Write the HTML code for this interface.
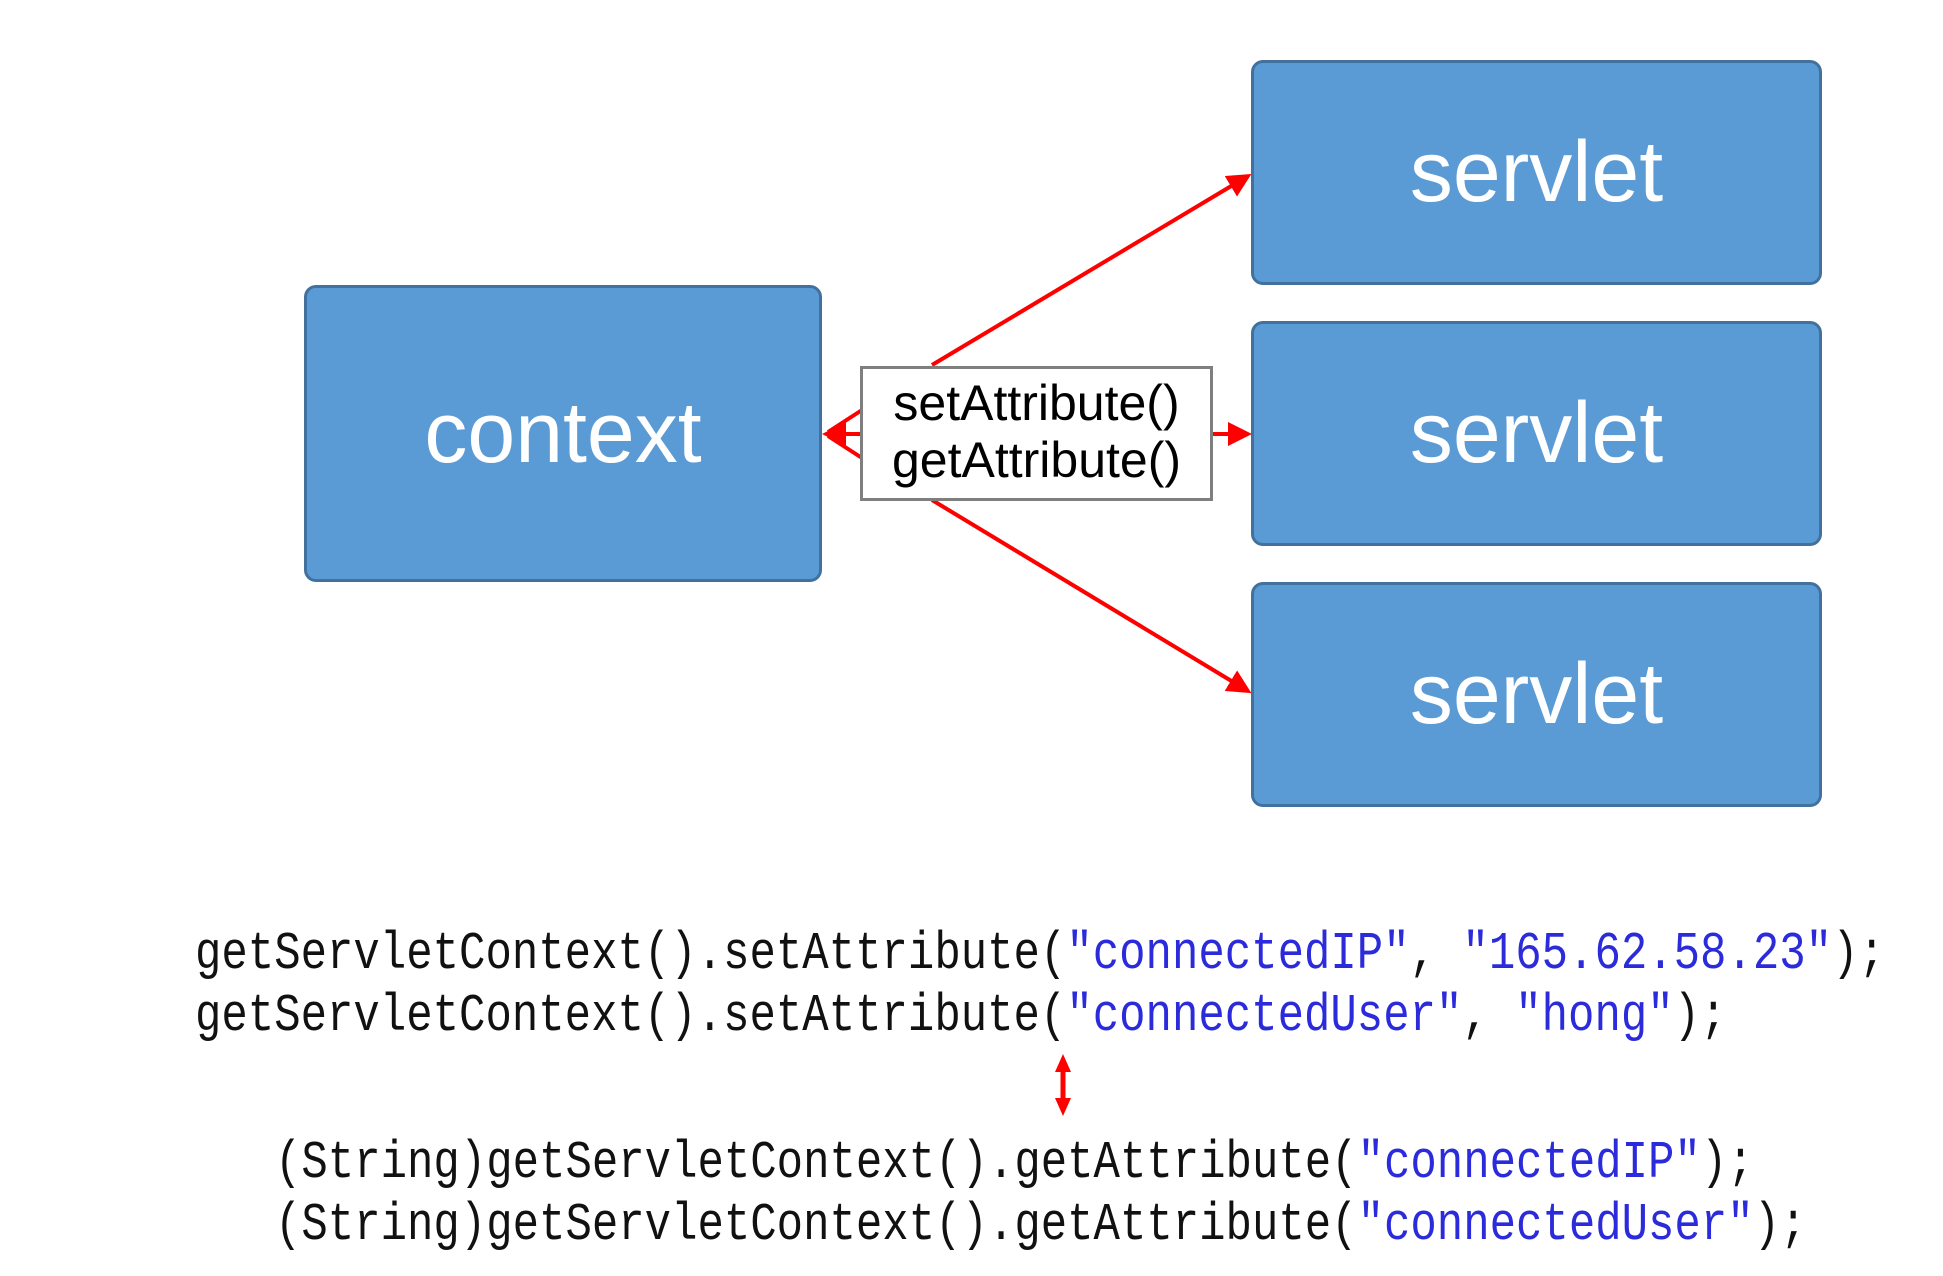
<!DOCTYPE html>
<html><head><meta charset="utf-8"><style>
body{margin:0;width:1943px;height:1276px;background:#fff;position:relative;overflow:hidden;font-family:"Liberation Sans",sans-serif}
.b{position:absolute;background:#5b9bd5;border:3px solid #41719c;border-radius:12px;box-sizing:border-box;color:#fff;display:flex;align-items:center;justify-content:center;font-size:86px}
.lab{position:absolute;left:860px;top:366px;width:353px;height:135px;box-sizing:border-box;border:3px solid #7f7f7f;background:#fff;text-align:center;font-size:50px;line-height:57px;padding-top:6px;color:#000}
.code{position:absolute;font-family:"Liberation Mono",monospace;font-size:44px;white-space:pre;color:#111;transform:scaleY(1.2);transform-origin:left bottom;line-height:1}
.s{color:#2b2bdc}
</style></head><body>
<div class="b" style="left:304px;top:285px;width:518px;height:297px">context</div>
<div class="b" style="left:1251px;top:60px;width:571px;height:225px">servlet</div>
<div class="b" style="left:1251px;top:321px;width:571px;height:225px">servlet</div>
<div class="b" style="left:1251px;top:582px;width:571px;height:225px">servlet</div>
<svg style="position:absolute;left:0;top:0" width="1943" height="1276">
<defs><marker id="a" markerWidth="6" markerHeight="6" refX="5" refY="3" orient="auto" markerUnits="strokeWidth"><path d="M0,0L6,3L0,6z" fill="#f00"/></marker></defs>
<g stroke="#f00" stroke-width="4" fill="none">
<line x1="932" y1="365" x2="1248" y2="176" marker-end="url(#a)"/>
<line x1="932" y1="500" x2="1248" y2="691" marker-end="url(#a)"/>
<line x1="1213" y1="434" x2="1248" y2="434" marker-end="url(#a)"/>
<line x1="862" y1="410" x2="828" y2="432"/>
<line x1="862" y1="458" x2="828" y2="436"/>
<line x1="862" y1="434" x2="826" y2="434" marker-end="url(#a)"/>
<line x1="1063" y1="1066" x2="1063" y2="1104" stroke-width="5"/>
</g>
<path d="M1063,1054L1055,1072L1071,1072z M1063,1116L1055,1098L1071,1098z" fill="#f00"/>
</svg>
<div class="lab">setAttribute()<br>getAttribute()</div>
<div class="code" style="left:195px;top:937px">getServletContext().setAttribute(<span class="s">"connectedIP"</span>, <span class="s">"165.62.58.23"</span>);</div>
<div class="code" style="left:195px;top:999px">getServletContext().setAttribute(<span class="s">"connectedUser"</span>, <span class="s">"hong"</span>);</div>
<div class="code" style="left:275px;top:1146px">(String)getServletContext().getAttribute(<span class="s">"connectedIP"</span>);</div>
<div class="code" style="left:275px;top:1208px">(String)getServletContext().getAttribute(<span class="s">"connectedUser"</span>);</div>
</body></html>
